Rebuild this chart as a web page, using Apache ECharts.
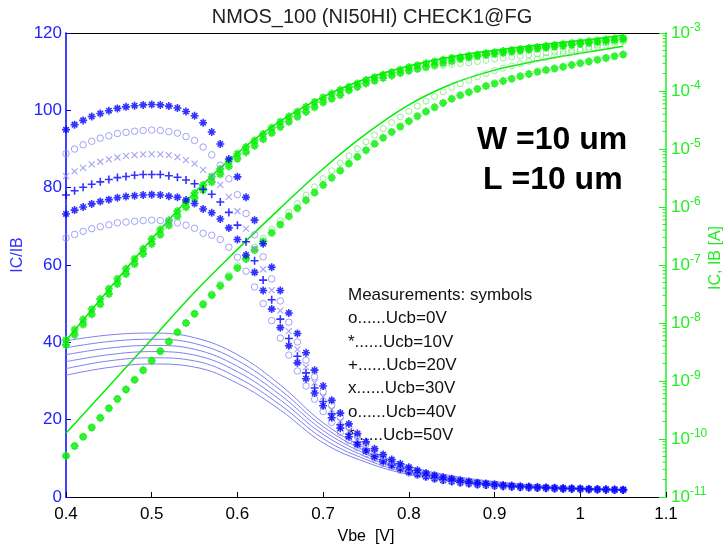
<!DOCTYPE html>
<html>
<head>
<meta charset="utf-8">
<script src="https://cdn.jsdelivr.net/npm/echarts@6/dist/echarts.min.js"></script>
<style>html,body{margin:0;padding:0;background:#fff;}#c{width:728px;height:548px;}</style>
</head>
<body>
<div id="c"></div>
<script>
// ---------------- DATA ----------------
const titleText = 'NMOS_100 (NI50HI) CHECK1@FG';
const xTickLabels = ['0.4','0.5','0.6','0.7','0.8','0.9','1','1.1'];
const legendLines = ['Measurements: symbols','o......Ucb=0V','*......Ucb=10V','+......Ucb=20V','x......Ucb=30V','o......Ucb=40V','*......Ucb=50V'];

// measurement Vbe grid [V]
const vbe = [0.40,0.41,0.42,0.43,0.44,0.45,0.46,0.47,0.48,0.49,
  0.50,0.51,0.52,0.53,0.54,0.55,0.56,0.57,0.58,0.59,
  0.60,0.61,0.62,0.63,0.64,0.65,0.66,0.67,0.68,0.69,
  0.70,0.71,0.72,0.73,0.74,0.75,0.76,0.77,0.78,0.79,
  0.80,0.81,0.82,0.83,0.84,0.85,0.86,0.87,0.88,0.89,
  0.90,0.91,0.92,0.93,0.94,0.95,0.96,0.97,0.98,0.99,
  1.00,1.01,1.02,1.03,1.04,1.05];

// measured IC/IB (left axis)
const betaU50 = [95.0,96.3,97.4,98.4,99.2,99.9,100.5,100.9,101.2,101.4,
  101.5,101.4,101.1,100.6,99.7,98.6,96.8,94.4,91.3,87.4,
  82.8,77.5,71.6,65.5,59.4,53.4,47.6,42.3,37.3,32.8,
  28.7,25.0,21.7,18.9,16.4,14.3,12.5,11.0,9.7,8.6,
  7.7,6.9,6.2,5.6,5.1,4.7,4.3,4.0,3.7,3.5,
  3.3,3.1,2.95,2.8,2.7,2.6,2.5,2.4,2.3,2.25,
  2.2,2.1,2.05,2.0,1.95,1.9];
const betaU40 = [88.8,90.0,91.1,92.0,92.8,93.4,94.0,94.3,94.6,94.8,
  94.9,94.8,94.5,94.1,93.2,92.2,90.5,88.5,85.8,82.3,
  78.2,73.3,67.8,62.1,56.4,50.7,45.2,40.1,35.4,31.1,
  27.2,23.7,20.6,18.0,15.6,13.6,11.9,10.5,9.3,8.2,
  7.4,6.6,5.95,5.4,4.9,4.5,4.15,3.86,3.57,3.38,
  3.19,3.0,2.86,2.72,2.62,2.53,2.44,2.34,2.24,2.2,
  2.15,2.06,2.01,1.96,1.92,1.87];
const betaU30 = [83.0,84.2,85.1,86.0,86.7,87.3,87.8,88.2,88.4,88.6,
  88.7,88.6,88.4,87.9,87.1,86.2,84.6,83.0,80.7,77.6,
  73.9,69.4,64.2,58.9,53.5,48.2,42.9,38.2,33.6,29.6,
  25.9,22.6,19.6,17.1,14.9,13.0,11.4,10.0,8.9,7.9,
  7.1,6.35,5.7,5.2,4.7,4.36,4.0,3.73,3.46,3.28,
  3.1,2.91,2.78,2.64,2.55,2.46,2.38,2.28,2.19,2.15,
  2.11,2.02,1.97,1.93,1.88,1.84];
const betaU20 = [78.1,79.2,80.1,80.9,81.5,82.1,82.6,82.9,83.2,83.4,
  83.4,83.4,83.1,82.7,82.0,81.0,79.6,78.3,76.3,73.6,
  70.3,66.0,61.1,56.1,51.0,46.0,41.0,36.4,32.1,28.2,
  24.7,21.5,18.7,16.3,14.2,12.4,10.9,9.6,8.5,7.6,
  6.8,6.1,5.5,5.0,4.56,4.22,3.87,3.62,3.35,3.19,
  3.01,2.84,2.71,2.58,2.49,2.41,2.32,2.24,2.15,2.11,
  2.07,1.98,1.94,1.9,1.86,1.81];
const betaU10 = [73.2,74.2,75.0,75.8,76.4,76.9,77.4,77.7,77.9,78.1,
  78.2,78.1,77.8,77.5,76.8,75.9,74.5,73.5,71.9,69.6,
  66.6,62.6,58.1,53.4,48.6,43.8,39.1,34.7,30.6,26.9,
  23.6,20.5,17.8,15.6,13.6,11.9,10.4,9.2,8.2,7.3,
  6.5,5.9,5.3,4.8,4.4,4.1,3.75,3.5,3.25,3.09,
  2.93,2.76,2.64,2.51,2.43,2.35,2.27,2.19,2.11,2.07,
  2.03,1.95,1.91,1.87,1.83,1.79];
const betaU0 = [67.0,67.9,68.7,69.4,69.9,70.4,70.9,71.1,71.3,71.5,
  71.6,71.5,71.3,70.9,70.3,69.5,68.2,67.7,66.6,64.6,
  62.0,58.4,54.3,50.0,45.6,41.1,36.7,32.6,28.7,25.3,
  22.1,19.3,16.7,14.6,12.8,11.2,9.9,8.7,7.7,6.9,
  6.2,5.6,5.1,4.6,4.2,3.9,3.6,3.36,3.13,2.98,
  2.82,2.67,2.55,2.43,2.36,2.28,2.21,2.13,2.05,2.02,
  1.98,1.9,1.87,1.83,1.79,1.76];

// measured currents, log10 of A (right axis)
const icStarLog = [-8.29,-8.114,-7.938,-7.762,-7.586,-7.41,-7.237,-7.065,-6.893,-6.721,
  -6.55,-6.39,-6.23,-6.07,-5.915,-5.76,-5.62,-5.48,-5.345,-5.21,
  -5.08,-4.965,-4.853,-4.743,-4.635,-4.53,-4.44,-4.355,-4.27,-4.19,
  -4.11,-4.045,-3.98,-3.93,-3.87,-3.81,-3.763,-3.718,-3.675,-3.632,
  -3.59,-3.556,-3.523,-3.492,-3.46,-3.43,-3.417,-3.394,-3.372,-3.35,
  -3.33,-3.312,-3.294,-3.276,-3.258,-3.24,-3.224,-3.208,-3.192,-3.176,
  -3.16,-3.144,-3.128,-3.112,-3.096,-3.08];
const icPlusLog = [-8.38,-8.204,-8.028,-7.852,-7.676,-7.50,-7.327,-7.155,-6.983,-6.811,
  -6.64,-6.48,-6.32,-6.16,-6.005,-5.85,-5.71,-5.57,-5.435,-5.30,
  -5.17,-5.055,-4.943,-4.833,-4.725,-4.62,-4.53,-4.445,-4.36,-4.28,
  -4.20,-4.135,-4.07,-3.99,-3.93,-3.87,-3.823,-3.778,-3.735,-3.692,
  -3.65,-3.616,-3.583,-3.552,-3.52,-3.49,-3.447,-3.424,-3.402,-3.38,
  -3.36,-3.342,-3.324,-3.306,-3.288,-3.27,-3.254,-3.238,-3.222,-3.206,
  -3.19,-3.174,-3.158,-3.142,-3.126,-3.11];
const icCircLog = [-8.35,-8.174,-7.998,-7.822,-7.646,-7.47,-7.297,-7.125,-6.953,-6.781,
  -6.61,-6.45,-6.29,-6.13,-5.975,-5.82,-5.68,-5.54,-5.405,-5.27,
  -5.14,-5.025,-4.913,-4.803,-4.695,-4.59,-4.50,-4.415,-4.33,-4.25,
  -4.17,-4.105,-4.04,-3.98,-3.92,-3.86,-3.813,-3.768,-3.725,-3.682,
  -3.64,-3.626,-3.603,-3.582,-3.56,-3.54,-3.527,-3.514,-3.492,-3.47,
  -3.45,-3.432,-3.414,-3.396,-3.378,-3.36,-3.344,-3.328,-3.312,-3.296,
  -3.28,-3.244,-3.208,-3.172,-3.146,-3.12];
const ibStarLog = [-10.29,-10.12,-9.96,-9.80,-9.635,-9.47,-9.31,-9.145,-8.98,-8.815,
  -8.65,-8.485,-8.32,-8.16,-8.00,-7.84,-7.68,-7.52,-7.36,-7.205,
  -7.05,-6.895,-6.742,-6.593,-6.445,-6.30,-6.16,-6.02,-5.885,-5.752,
  -5.62,-5.495,-5.372,-5.252,-5.135,-5.02,-4.91,-4.805,-4.705,-4.61,
  -4.52,-4.435,-4.355,-4.28,-4.205,-4.135,-4.075,-4.02,-3.965,-3.915,
  -3.87,-3.828,-3.787,-3.747,-3.708,-3.67,-3.64,-3.61,-3.58,-3.55,
  -3.52,-3.49,-3.46,-3.43,-3.40,-3.37];
const ibCircLog = [-10.29,-10.12,-9.96,-9.80,-9.635,-9.47,-9.31,-9.145,-8.98,-8.815,
  -8.65,-8.485,-8.32,-8.16,-8.00,-7.84,-7.66,-7.495,-7.33,-7.17,
  -7.01,-6.85,-6.692,-6.538,-6.385,-6.235,-6.09,-5.94,-5.795,-5.652,
  -5.51,-5.375,-5.242,-5.117,-4.995,-4.875,-4.76,-4.65,-4.545,-4.445,
  -4.35,-4.26,-4.175,-4.095,-4.015,-3.94,-3.875,-3.815,-3.755,-3.70,
  -3.65,-3.608,-3.567,-3.527,-3.488,-3.45,-3.42,-3.39,-3.36,-3.33,
  -3.30,-3.27,-3.24,-3.21,-3.18,-3.15];

// simulation grid and curves
const simVbe = [0.40,0.45,0.50,0.55,0.60,0.65,0.70,0.75,0.80,0.85,0.90,0.95,1.00,1.05];
const simBeta = [
  [40.4,41.9,42.4,41.2,36.8,29.0,19.2,12.5,8.0,5.5,4.0,3.0,2.4,2.0],
  [38.6,40.2,40.8,39.7,35.3,27.7,18.2,11.8,7.6,5.2,3.8,2.9,2.3,1.9],
  [36.8,38.5,39.2,38.2,33.8,26.4,17.2,11.1,7.1,4.9,3.6,2.8,2.2,1.85],
  [35.0,36.8,37.6,36.7,32.4,25.1,16.2,10.4,6.7,4.7,3.4,2.6,2.1,1.8],
  [33.2,35.2,36.0,35.2,30.9,23.8,15.1,9.7,6.2,4.4,3.2,2.5,2.0,1.7],
  [31.5,33.5,34.4,33.6,29.4,22.5,14.0,9.0,5.8,4.1,3.0,2.4,1.95,1.65]
];
const simIcLog = [-8.30,-7.42,-6.55,-5.75,-5.07,-4.52,-4.10,-3.79,-3.57,-3.41,-3.30,-3.21,-3.13,-3.04];
const simIbLog = [-9.90,-9.09,-8.28,-7.47,-6.73,-6.02,-5.34,-4.74,-4.24,-3.88,-3.64,-3.48,-3.35,-3.23];

// ---------------- STYLE ----------------
const FONT = 'Liberation Sans, Arial, Helvetica, sans-serif';
const BLUE = '#0000ff', LBLUE = '#8c8cf2', SIMBLUE = '#8080ee';
const GREEN = '#00ee00', LGREEN = '#80e880', AXGREEN = '#22ee22';
const SYM_PLUS = 'path://M0,5L10,5M5,0L5,10';
const SYM_STAR = 'path://M0,5L10,5M5,0L5,10M1.6,1.6L8.4,8.4M8.4,1.6L1.6,8.4';
const SYM_X = 'path://M0,0L10,10M10,0L0,10';

function lin(ys) { return vbe.map((x, i) => [x, ys[i]]); }
function lg(es, xs) { xs = xs || vbe; return xs.map((x, i) => [x, Math.pow(10, es[i])]); }

function markers(name, data, yIdx, sym, size, color, lw, z) {
  return {
    name, type: 'scatter', xAxisIndex: 0, yAxisIndex: yIdx, data,
    symbol: sym, symbolSize: size, z: z || 3,
    itemStyle: { color: 'rgba(0,0,0,0)', borderColor: color, borderWidth: lw },
    emphasis: { disabled: true }, silent: true
  };
}

const series = [];
series.push({ type: 'line', xAxisIndex: 0, yAxisIndex: 1, data: lg(simIcLog, simVbe), smooth: 0.4, showSymbol: false,
  lineStyle: { color: GREEN, width: 1.5 }, z: 2, silent: true });
series.push({ type: 'line', xAxisIndex: 0, yAxisIndex: 1, data: lg(simIbLog, simVbe), smooth: 0.4, showSymbol: false,
  lineStyle: { color: GREEN, width: 1.5 }, z: 2, silent: true });
series.push(markers('IC o', lg(icCircLog), 1, 'circle', 6, LGREEN, 1, 3));
series.push(markers('IB o', lg(ibCircLog), 1, 'circle', 6, LGREEN, 1, 3));
series.push(markers('IC +', lg(icPlusLog), 1, SYM_STAR, 8, GREEN, 2, 4));
series.push(markers('IC *', lg(icStarLog), 1, SYM_STAR, 8, GREEN, 2, 4));
series.push(markers('IB *', lg(ibStarLog), 1, SYM_STAR, 8, GREEN, 2.2, 4));
simBeta.forEach(s => series.push({ type: 'line', xAxisIndex: 0, yAxisIndex: 0,
  data: simVbe.map((x, i) => [x, s[i]]), smooth: 0.4, showSymbol: false,
  lineStyle: { color: SIMBLUE, width: 1 }, z: 2, silent: true }));
series.push(markers('Ucb=0V', lin(betaU0), 0, 'circle', 6.5, LBLUE, 1, 5));
series.push(markers('Ucb=10V', lin(betaU10), 0, SYM_STAR, 8, BLUE, 1.6, 5));
series.push(markers('Ucb=20V', lin(betaU20), 0, SYM_PLUS, 8, BLUE, 1.6, 5));
series.push(markers('Ucb=30V', lin(betaU30), 0, SYM_X, 6, LBLUE, 1.1, 5));
series.push(markers('Ucb=40V', lin(betaU40), 0, 'circle', 6.5, LBLUE, 1, 5));
series.push(markers('Ucb=50V', lin(betaU50), 0, SYM_STAR, 8, BLUE, 1.6, 5));

// log-axis minor ticks on the right axis (axis decoration)
const minorTicks = [];
for (let e = -11; e < -3; e++) for (let k = 2; k <= 9; k++) minorTicks.push([1.1, k * Math.pow(10, e)]);
series.push({ type: 'custom', xAxisIndex: 0, yAxisIndex: 1, data: minorTicks, clip: false, silent: true, z: 6,
  renderItem: (params, api) => {
    const p = api.coord([api.value(0), api.value(1)]);
    return { type: 'line', shape: { x1: p[0] - 3.5, y1: p[1], x2: p[0], y2: p[1] }, style: { stroke: AXGREEN, lineWidth: 1 } };
  } });

const graphics = [
  { type: 'text', left: 477, top: 124, style: { text: 'W =10 um', font: 'bold 32px ' + FONT, fill: '#000' } },
  { type: 'text', left: 483, top: 164, style: { text: 'L =10 um', font: 'bold 32px ' + FONT, fill: '#000' } },
  { type: 'text', x: 18, y: 255, rotation: Math.PI / 2,
    style: { text: 'IC/IB', font: '16px ' + FONT, fill: '#3333ff', align: 'center', verticalAlign: 'middle' } },
  { type: 'text', x: 716, y: 258, rotation: Math.PI / 2,
    style: { text: 'IC, IB [A]', font: '16px ' + FONT, fill: AXGREEN, align: 'center', verticalAlign: 'middle' } },
  { type: 'text', x: 366, y: 537,
    style: { text: 'Vbe  [V]', font: '16px ' + FONT, fill: '#000', align: 'center', verticalAlign: 'middle' } }
];
legendLines.forEach((t, i) => graphics.push({ type: 'text', left: 348, top: 287 + i * 23.3,
  style: { text: t, font: '17px ' + FONT, fill: '#111' } }));

const chart = echarts.init(document.getElementById('c'), null, { renderer: 'canvas' });
chart.setOption({
  animation: false,
  backgroundColor: '#fff',
  textStyle: { fontFamily: FONT },
  title: { text: titleText, left: 367, textAlign: 'center', top: 2, textStyle: { fontSize: 20, fontWeight: 'normal', color: '#222', fontFamily: FONT } },
  grid: { left: 66, right: 62, top: 33, bottom: 51, containLabel: false, outerBoundsMode: 'none' },
  xAxis: [
    { type: 'value', position: 'bottom', min: 0.4, max: 1.1, interval: 0.1,
      axisLine: { lineStyle: { color: '#000', width: 1 } },
      axisTick: { inside: true, length: 5, lineStyle: { color: '#000' } },
      axisLabel: { color: '#000', fontSize: 17, margin: 9, formatter: v => xTickLabels[Math.round((v - 0.4) * 10)] },
      splitLine: { show: false } },
    { type: 'value', position: 'top', min: 0.4, max: 1.1, interval: 0.1,
      axisLine: { lineStyle: { color: '#000', width: 1 } }, axisTick: { show: false }, axisLabel: { show: false }, splitLine: { show: false } }
  ],
  yAxis: [
    { type: 'value', position: 'left', min: 0, max: 120, interval: 20,
      axisLine: { show: true, lineStyle: { color: BLUE, width: 1.5 } },
      axisTick: { inside: true, length: 5, lineStyle: { color: BLUE } },
      axisLabel: { color: '#2222ff', fontSize: 17, margin: 4 },
      splitLine: { show: false } },
    { type: 'log', logBase: 10, position: 'right', min: 1e-11, max: 1e-3, splitNumber: 8,
      axisLine: { show: true, lineStyle: { color: AXGREEN, width: 1.5 } },
      axisTick: { inside: true, length: 7, lineStyle: { color: AXGREEN } },
      axisLabel: { margin: 5, formatter: v => '{b|10}{s|' + Math.round(Math.log10(v)) + '}',
        rich: { b: { fontSize: 17, color: AXGREEN }, s: { fontSize: 12, color: AXGREEN, padding: [0, 0, 10, 0] } } },
      splitLine: { show: false } }
  ],
  graphic: graphics,
  series
});
</script>
</body>
</html>
